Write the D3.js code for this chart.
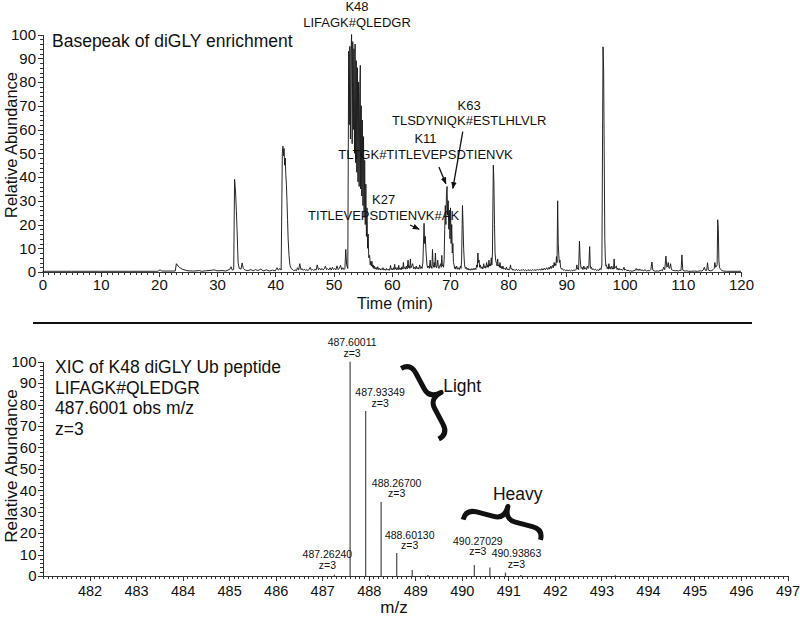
<!DOCTYPE html>
<html><head><meta charset="utf-8">
<script src="https://cdn.jsdelivr.net/npm/d3@7"></script>
<style>
body{margin:0;background:#fff}
svg{display:block}
text{font-family:"Liberation Sans",Arial,sans-serif;fill:#111}
.narrow{font-family:"Liberation Sans Narrow","Arial Narrow","Liberation Sans",sans-serif}
.axis path,.axis line{stroke:#333;stroke-width:1;shape-rendering:crispEdges}
</style>
</head><body><svg id="c" width="800" height="617"></svg>
<script>
// ---------- DATA ----------
// Basepeak chromatogram: [time (min), relative abundance]
const chromatogram = [
[0,0.3],[5,0.3],[10,0.3],[15,0.3],[19.8,0.3],[20.2,0.9],[20.5,0.4],[22.8,0.4],[23.0,3.5],[23.3,2.5],[23.6,1.8],[24.0,1.2],[24.5,0.8],
[25,0.5],[26,0.4],[27,0.6],[27.3,0.3],[28,0.5],[29,0.7],[29.5,0.9],[30,0.5],[31,0.6],[31.5,0.4],[32.2,1.2],[32.4,2.2],[32.6,0.8],
[32.85,1.0],[33.0,39],[33.1,36],[33.2,32],[33.3,26],[33.45,16],[33.6,4],[33.8,1.5],[34.1,1.2],[34.3,3.8],[34.5,1.5],[34.8,0.8],
[35.3,0.6],[35.8,1.0],[36.2,0.5],[36.6,1.0],[37,0.6],[37.5,1.2],[37.9,0.5],[38.5,0.9],[39,0.4],[39.5,0.8],[40.0,0.5],[40.3,1.8],
[40.5,0.8],[40.8,1.5],[41.0,0.8],[41.2,50],[41.3,53],[41.4,49],[41.5,52],[41.6,45],[41.7,48],[41.8,41],[41.9,37],[42.0,30],
[42.1,22],[42.2,14],[42.35,7],[42.5,3],[42.7,1.5],[43.0,1.0],[43.2,0.5],[43.4,0.9],[43.6,0.5],[43.8,1.8],[44.0,0.8],[44.2,3.5],
[44.4,1.0],[44.6,1.4],[44.8,0.7],[45.0,1.2],[45.2,0.6],[45.4,1.0],[45.6,0.6],[45.8,1.0],[46.0,2.0],[46.2,0.7],[46.4,1.1],[46.6,0.6],
[46.8,1.2],[47.0,0.8],[47.2,3.0],[47.4,1.0],[47.6,1.6],[47.8,0.8],[48.0,1.5],[48.2,0.9],[48.4,1.3],[48.6,2.5],[48.8,1.0],[49.0,1.4],
[49.2,0.9],[49.4,1.8],[49.6,0.8],[49.8,2.0],[50.0,1.0],[50.2,1.5],[50.4,0.9],[50.6,2.6],[50.8,1.0],[51.0,1.6],[51.2,2.8],[51.4,1.0],
[51.6,1.8],[51.8,1.0],[51.95,1.5],[52.1,9.5],[52.25,3],[52.45,1.5],
[52.6,93],[52.7,62],[52.8,95],[52.9,56],[53.0,92],[53.1,100],[53.2,54],[53.3,97],[53.4,60],[53.5,94],[53.6,50],[53.7,96],
[53.8,46],[53.9,89],[54.0,42],[54.1,86],[54.2,38],[54.3,80],[54.4,36],[54.5,76],[54.6,87],[54.65,35],[54.75,70],[54.85,32],
[54.95,64],[55.05,28],[55.15,57],[55.25,23],[55.35,47],[55.45,20],[55.55,37],[55.65,15],[55.75,27],[55.85,10],[55.95,16],
[56.05,6],[56.2,7],[56.3,3],[56.4,4.5],[56.5,2.5],[56.6,4.5],[56.7,2],[56.8,3],[56.9,1.5],[57.0,2.5],[57.15,1.2],[57.3,2],
[57.45,1],[57.6,2.2],[57.75,1],[57.9,1.6],[58.05,0.8],[58.2,1.4],[58.35,0.9],[58.5,1.8],[58.65,0.8],[58.8,1.3],[58.95,0.7],
[59.1,1.5],[59.25,0.8],[59.4,1.2],[59.55,0.7],[59.7,1.6],[59.8,2.8],[59.9,1],[60.0,1.5],[60.15,0.9],[60.3,1.8],[60.4,1.0],
[60.5,3.2],[60.6,1.2],[60.7,1.9],[60.85,0.9],[61.0,1.8],[61.1,1],[61.2,2.8],[61.3,1.1],[61.45,1.7],[61.6,0.9],[61.75,2.2],
[61.9,1.2],[62.0,4.0],[62.1,1.4],[62.25,2],[62.4,1.2],[62.5,2.5],[62.65,1.3],[62.8,5.0],[62.9,1.8],[63.0,2.5],[63.1,1.5],
[63.2,5.5],[63.3,1.8],[63.45,2.6],[63.6,3.5],[63.75,1.4],[63.9,2],[64.05,1.2],[64.2,2.5],[64.35,1.3],[64.5,1.9],[64.65,1.2],
[64.8,3.0],[64.95,1.5],[65.1,2.2],[65.2,1.5],[65.35,4],
[65.55,20.5],[65.65,12],[65.75,15],[65.9,8],[66.05,3],[66.15,1.8],[66.3,2.5],[66.45,1.5],[66.6,5],[66.7,2],[66.8,2.5],[66.9,1.5],
[67.0,9.5],[67.1,3],[67.2,2],[67.3,4],[67.4,2],[67.5,8],[67.6,2.5],[67.7,1.8],[67.8,3],[67.9,5],[68.0,2],[68.1,1.5],[68.25,2.5],
[68.4,3.5],[68.5,2],[68.6,7],[68.7,2.5],[68.8,3],[68.9,2],[69.0,5],[69.1,18],[69.2,28],[69.3,20],[69.4,33],[69.5,36],[69.6,24],
[69.7,30],[69.8,18],[69.9,26],[70.0,14],[70.1,27],[70.2,12],[70.3,20],[70.4,8],[70.5,12],[70.6,4],[70.7,3],[70.8,1.5],[70.9,2.2],
[71.0,1.2],[71.15,2.5],[71.3,1.2],[71.45,1.8],[71.6,1.0],[71.8,2.5],[71.9,1.5],[72.0,5],[72.15,28],[72.25,20],[72.35,10],
[72.5,3],[72.65,1.5],[72.8,2],[72.95,1],[73.1,1.6],[73.25,0.8],[73.4,1.3],[73.55,0.7],[73.7,1.4],[73.85,0.8],[74.0,1.5],[74.15,0.9],
[74.3,1.6],[74.45,1.0],[74.6,3],[74.7,2],[74.8,8],[74.9,4],[75.0,5],[75.1,2],[75.2,3],[75.35,1.5],[75.5,2.2],[75.65,1.3],[75.8,3.5],
[75.9,1.8],[76.0,2.5],[76.15,1.6],[76.3,4],[76.4,2],[76.5,3],[76.6,2],[76.7,5],[76.8,2.5],[76.9,3.5],[77.0,2.5],[77.1,6],[77.2,3],
[77.3,8],[77.45,45],[77.55,38],[77.65,20],[77.75,8],[77.85,5],[78.0,3.5],[78.1,2.5],[78.2,5.5],[78.3,2.5],[78.4,3],[78.5,2],
[78.6,4],[78.7,1.8],[78.8,2.4],[78.95,1.3],[79.1,2.5],[79.25,1.2],[79.4,1.6],[79.55,1],[79.7,2],[79.85,0.9],[80.0,1.3],[80.15,0.8],
[80.3,1.6],[80.4,3],[80.5,1.2],[80.65,1.5],[80.8,0.7],[81.0,1.1],[81.2,0.6],[81.4,1.2],[81.6,0.6],[81.8,1.0],[82.0,0.5],[82.2,1.0],
[82.4,0.6],[82.6,1.1],[82.8,0.5],[83.0,0.9],[83.2,0.5],[83.4,1.0],[83.6,0.6],[83.8,0.9],[84.0,0.5],[84.2,1.1],[84.4,0.6],[84.6,1.0],
[84.8,0.6],[85.0,1.2],[85.2,0.7],[85.4,1.3],[85.6,0.7],[85.8,1.5],[86.0,0.8],[86.2,1.6],[86.4,0.9],[86.6,1.8],[86.8,1.0],[87.0,2.0],
[87.15,1.2],[87.3,2.5],[87.45,1.5],[87.6,2.8],[87.75,1.8],[87.9,4],[88.0,2.5],[88.1,3.5],[88.2,2.8],[88.3,6.5],[88.4,4],[88.5,30],
[88.6,12],[88.7,7],[88.8,4],[88.9,5],[89.0,2],[89.15,1.2],[89.3,1.5],[89.5,0.7],[89.7,1.0],[89.9,0.5],[90.1,0.9],[90.3,0.5],
[90.5,0.8],[90.7,0.4],[90.9,0.8],[91.1,0.5],[91.3,0.9],[91.5,0.6],[91.7,1.2],[91.8,3],[91.9,1.2],[92.0,1.5],[92.1,1],[92.25,13],
[92.35,6],[92.45,3],[92.55,1.5],[92.7,2],[92.85,1.0],[93.0,2.5],[93.15,1.2],[93.3,1.8],[93.45,1.0],[93.6,2.5],[93.75,1.5],
[93.85,2],[94.0,10.7],[94.1,3],[94.2,1.5],[94.3,2],[94.45,1.0],[94.6,1.4],[94.8,0.8],[95.0,1.2],[95.2,0.6],[95.4,1.0],[95.6,0.6],
[95.8,1.5],[95.95,1],[96.1,3],[96.3,94.8],[96.4,85],[96.5,50],[96.6,14],[96.7,5],[96.8,2.5],[96.9,3],[97.0,1.5],[97.1,2],
[97.2,1.2],[97.3,3.5],[97.4,1.5],[97.5,2.2],[97.6,1.2],[97.7,1.8],[97.8,2.5],[97.9,1.2],[98.0,1.8],[98.1,1.2],[98.2,5.5],[98.3,1.5],
[98.45,2.2],[98.6,2.5],[98.7,1],[98.85,1.6],[99.0,0.8],[99.15,1.4],[99.3,0.8],[99.45,1.2],[99.6,0.7],[99.75,1.0],[99.9,2.0],
[100.0,0.8],[100.2,1.1],[100.4,0.5],[100.6,0.8],[100.8,0.4],[101,0.5],[101.3,0.3],[101.6,0.6],[101.9,0.8],[102,1.5],[102.15,0.7],
[102.3,1.2],[102.45,0.6],[102.6,1.3],[102.8,0.6],[103,0.9],[103.2,0.5],[103.5,0.9],[103.8,0.4],[104,0.6],[104.3,0.5],[104.5,1.0],
[104.7,4.2],[104.85,0.8],[105.1,0.5],[105.3,0.3],[105.6,0.5],[105.8,0.3],[106.1,0.6],[106.3,0.8],[106.5,0.5],[106.7,2.0],[106.9,1],
[107.1,6.7],[107.25,2],[107.4,2.5],[107.5,4],[107.6,1.8],[107.7,1.5],[107.8,2.2],[107.9,3.5],[108.05,1],[108.2,0.8],[108.5,0.6],
[108.8,0.5],[109,0.6],[109.3,0.4],[109.5,0.8],[109.7,0.6],[109.85,7.2],[110.0,0.8],[110.2,0.5],[110.4,0.4],[110.7,0.5],[111,0.3],
[111.5,0.3],[112,0.4],[112.5,0.3],[113,0.5],[113.3,0.4],[113.5,0.8],[113.7,2.0],[113.9,0.6],[114.1,0.7],[114.25,3.9],[114.4,0.8],
[114.7,0.5],[115.0,0.6],[115.2,1.0],[115.4,1.5],[115.5,4],[115.65,2],[115.8,2.5],[115.9,3],[116.0,22],[116.1,18],[116.2,5],
[116.3,2],[116.4,1.5],[116.7,0.6],[117.0,0.4],[117.5,0.3],[120,0.3]
];
const timeTicks = [0,10,20,30,40,50,60,70,80,90,100,110,120];
const abundTicks = [0,10,20,30,40,50,60,70,80,90,100];
// peptide annotations
const peptideSites = ["K48","K63","K11","K27"];
const peptideSeqs  = ["LIFAGK#QLEDGR","TLSDYNIQK#ESTLHLVLR","TLTGK#TITLEVEPSDTIENVK","TITLEVEPSDTIENVK#AK"];

// XIC spectrum
const mzValues = [487.26240,487.60011,487.93349,488.26700,488.60130,488.935,489.27,490.27029,490.604,490.93863,491.27,493.3];
const mzAbund  = [0.6,100,77,34.5,10.7,2.8,0.5,5.1,4.0,1.6,0.5,0.3];
const mzLabelled = [0,1,2,3,4,7,9];
const mzCharge = "z=3";
const mzTicks = [482,483,484,485,486,487,488,489,490,491,492,493,494,495,496,497];
const xicTitle = ["XIC of K48 diGLY Ub peptide","LIFAGK#QLEDGR","487.6001 obs m/z","z=3"];

// ---------- LAYOUT ----------
const svg = d3.select("#c");
const defs = svg.append("defs");
defs.append("marker").attr("id","ah").attr("viewBox","0 0 10 10").attr("refX",9).attr("refY",5)
  .attr("markerWidth",7).attr("markerHeight",7).attr("markerUnits","userSpaceOnUse").attr("orient","auto")
  .append("path").attr("d","M0,1 L10,5 L0,9 Z").attr("fill","#111");

// top panel
const xT = d3.scaleLinear().domain([0,120]).range([42.5,741]);
const yT = d3.scaleLinear().domain([0,100]).range([272,34.5]);

const gxT = svg.append("g").attr("class","axis").attr("transform","translate(0,272)");
gxT.call(d3.axisBottom(xT).tickValues(d3.range(0,121,1)).tickSize(3).tickSizeOuter(0).tickFormat(""));
const gxT2 = svg.append("g").attr("class","axis").attr("transform","translate(0,272)");
gxT2.call(d3.axisBottom(xT).tickValues(timeTicks).tickSize(5).tickSizeOuter(0).tickPadding(2.5));
gxT2.selectAll("text").attr("font-size",15).style("font-family",'"Liberation Sans",Arial,sans-serif').attr("fill","#111");

const gyT = svg.append("g").attr("class","axis").attr("transform","translate(42.5,0)");
gyT.call(d3.axisLeft(yT).tickValues(d3.range(0,101,2)).tickSize(3).tickSizeOuter(0).tickFormat(""));
const gyT2 = svg.append("g").attr("class","axis").attr("transform","translate(42.5,0)");
gyT2.call(d3.axisLeft(yT).tickValues(abundTicks).tickSize(5).tickSizeOuter(0).tickPadding(1.5));
gyT2.selectAll("text").attr("font-size",15).style("font-family",'"Liberation Sans",Arial,sans-serif').attr("fill","#111");

svg.append("path").datum(chromatogram)
  .attr("d",d3.line().x(d=>xT(d[0])).y(d=>yT(d[1])))
  .attr("fill","none").attr("stroke","#1a1a1a").attr("stroke-width",0.95).attr("stroke-linejoin","round");

svg.append("text").attr("x",52).attr("y",47).attr("font-size",17.5).text("Basepeak of diGLY enrichment");
svg.append("text").attr("transform","translate(17,145) rotate(-90)").attr("text-anchor","middle")
  .attr("font-size",16.4).text("Relative Abundance");
svg.append("text").attr("x",395).attr("y",309).attr("text-anchor","middle").attr("font-size",16).text("Time (min)");

// peptide labels, placed in data coordinates
const pepPos = [[54.03,109.9],[73.3,68.4],[65.8,54.4],[58.6,28.7]];
peptideSites.forEach((s,i)=>{
  const t = svg.append("text").attr("text-anchor","middle").attr("font-size",13)
    .attr("x",xT(pepPos[i][0])).attr("y",yT(pepPos[i][1]));
  t.append("tspan").attr("x",xT(pepPos[i][0])).text(s);
  t.append("tspan").attr("x",xT(pepPos[i][0])).attr("dy",15.7).text(peptideSeqs[i]);
});
const arrows = [[[63.14,19.8],[64.7,18.0]],[[68.1,44.2],[69.3,37.2]],[[72.2,59.1],[70.5,35.2]]];
arrows.forEach(a=>{
  svg.append("line").attr("x1",xT(a[0][0])).attr("y1",yT(a[0][1])).attr("x2",xT(a[1][0])).attr("y2",yT(a[1][1]))
    .attr("stroke","#111").attr("stroke-width",1.3).attr("marker-end","url(#ah)");
});

// separator
svg.append("line").attr("x1",33).attr("x2",752).attr("y1",323).attr("y2",323).attr("stroke","#111").attr("stroke-width",2);

// bottom panel
const xB = d3.scaleLinear().domain([481,497]).range([43,787.5]);
const yB = d3.scaleLinear().domain([0,100]).range([576,361.7]);

const gxB = svg.append("g").attr("class","axis").attr("transform","translate(0,576)");
gxB.call(d3.axisBottom(xB).tickValues(d3.range(4810,4971,1).map(v=>v/10)).tickSize(2.5).tickSizeOuter(0).tickFormat(""));
const gxB2 = svg.append("g").attr("class","axis").attr("transform","translate(0,576)");
gxB2.call(d3.axisBottom(xB).tickValues(mzTicks).tickSize(5).tickSizeOuter(0).tickPadding(4.5));
gxB2.selectAll("text").attr("font-size",14.5).attr("class","narrow").attr("fill","#111");

const gyB = svg.append("g").attr("class","axis").attr("transform","translate(43,0)");
gyB.call(d3.axisLeft(yB).tickValues(d3.range(0,101,2)).tickSize(3).tickSizeOuter(0).tickFormat(""));
const gyB2 = svg.append("g").attr("class","axis").attr("transform","translate(43,0)");
gyB2.call(d3.axisLeft(yB).tickValues(abundTicks).tickSize(5).tickSizeOuter(0).tickPadding(1.5));
gyB2.selectAll("text").attr("font-size",15).style("font-family",'"Liberation Sans",Arial,sans-serif').attr("fill","#111");

svg.append("g").selectAll("line").data(mzValues).join("line")
  .attr("x1",d=>xB(d)).attr("x2",d=>xB(d)).attr("y1",yB(0)).attr("y2",(d,i)=>yB(mzAbund[i]))
  .attr("stroke","#555").attr("stroke-width",1.3);

// peak labels: horizontal offsets (px) and gap above peak top
const labDx = {0:-7,1:2,2:14.5,3:15.5,4:13,7:3.5,9:11};
const labGap = {0:6,1:5,2:4,3:5,4:4,7:10,9:5};
const fmt = d3.format(".5f");
mzLabelled.forEach(i=>{
  const cx = xB(mzValues[i]) + labDx[i];
  const base = yB(mzAbund[i]) - labGap[i];
  svg.append("text").attr("class","narrow").attr("font-size",10.5).attr("text-anchor","middle")
    .attr("x",cx).attr("y",base-10.5).attr("fill","#222").text(fmt(mzValues[i]));
  svg.append("text").attr("class","narrow").attr("font-size",10.5).attr("text-anchor","middle")
    .attr("x",cx).attr("y",base).attr("fill","#222").text(mzCharge);
});

xicTitle.forEach((s,i)=>{
  svg.append("text").attr("x",55).attr("y",373+i*20.7).attr("font-size",17.5).text(s);
});
svg.append("text").attr("transform","translate(17,466) rotate(-90)").attr("text-anchor","middle")
  .attr("font-size",17.3).text("Relative Abundance");
svg.append("text").attr("x",394).attr("y",613).attr("text-anchor","middle").attr("font-size",17).text("m/z");

// braces (anchored in data coordinates)
function brace(cx,cy,h,w,rot){
  const a=w*0.45, r=h*0.14;
  const d=`M0,${-h/2} Q${a},${-h/2} ${a},${-h/2+r} L${a},${-r} Q${a},0 ${w},0 Q${a},0 ${a},${r} L${a},${h/2-r} Q${a},${h/2} 0,${h/2}`;
  svg.append("path").attr("d",d).attr("fill","none").attr("stroke","#111").attr("stroke-width",5)
    .attr("stroke-linecap","butt").attr("stroke-linejoin","round")
    .attr("transform",`translate(${cx},${cy}) rotate(${rot})`);
}
brace(xB(489.10),yB(80.4),80,24,-28);
brace(xB(490.86),yB(21.6),80,24,-75.3);
svg.append("text").attr("x",xB(489.60)).attr("y",yB(86)).attr("font-size",17.5).text("Light");
svg.append("text").attr("x",xB(490.67)).attr("y",yB(35.5)).attr("font-size",17.5).text("Heavy");
</script></body></html>
